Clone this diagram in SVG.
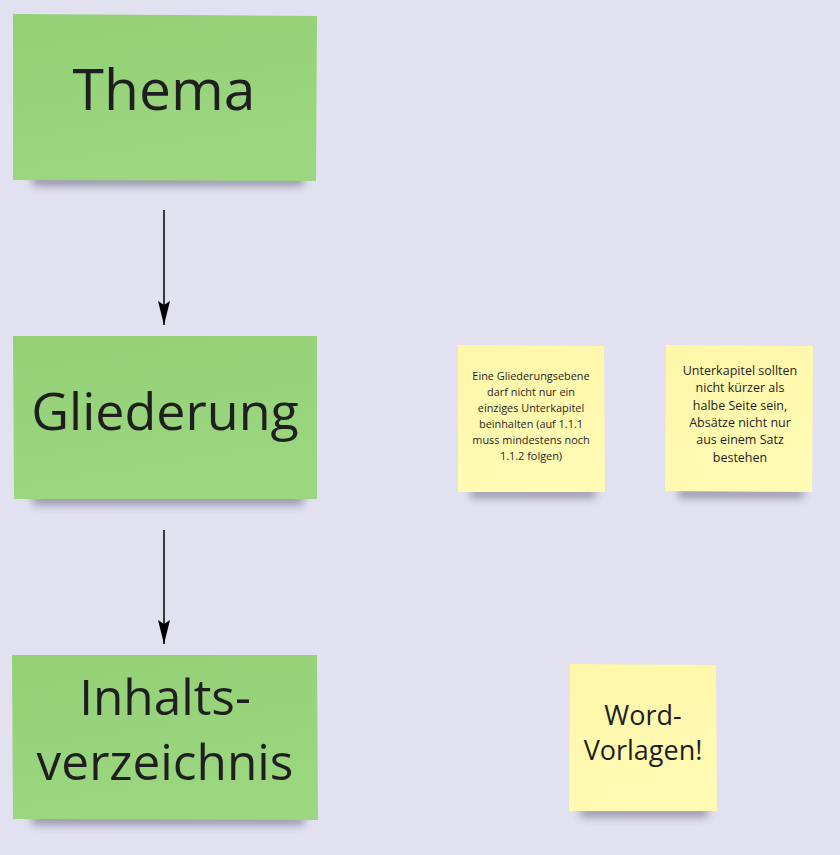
<svg xmlns="http://www.w3.org/2000/svg" width="840" height="855" viewBox="0 0 840 855">
<defs>
<filter id="sh" x="-20%" y="-100%" width="140%" height="300%"><feGaussianBlur stdDeviation="4"/></filter>
<marker id="ah" markerWidth="26" markerHeight="12" refX="24" refY="6" orient="auto" markerUnits="userSpaceOnUse" viewBox="0 0 26 12"><path d="M0,0 L24,6 L0,12 L4,6 Z" fill="#000"/></marker>
<linearGradient id="gg" x1="0" y1="0" x2="0.3" y2="1"><stop offset="0" stop-color="#93d076"/><stop offset="1" stop-color="#9cd77f"/></linearGradient>
<linearGradient id="yg" x1="0" y1="0" x2="0.3" y2="1"><stop offset="0" stop-color="#fff6a8"/><stop offset="1" stop-color="#fffab4"/></linearGradient>
</defs>
<style>
.sh{fill:#3a3a55;opacity:0.45;filter:url(#sh)}
.g{fill:url(#gg)}
.y{fill:url(#yg)}
text{font-family:"Open Sans","Noto Sans",sans-serif;fill:#1f1f1f;text-anchor:middle}
.t1{font-size:57px}
.t2{font-size:52px}
.t3{font-size:49.5px}
.sm{font-size:10.9px}
.md{font-size:12.5px}
.wd{font-size:27px}
</style>
<rect width="840" height="855" fill="#e1e1f0"/>
<g id="connectors" stroke="#000" stroke-width="1.5" fill="none">
<line x1="164" y1="210" x2="164" y2="325" marker-end="url(#ah)"/>
<line x1="164" y1="530" x2="164" y2="644" marker-end="url(#ah)"/>
</g>
<g id="thema">
<rect class="sh" x="32" y="174" width="272" height="12" rx="5"/>
<polygon class="g" points="13,14 317,16 316,181 13,180"/>
<text class="t1" x="164" y="110">Thema</text>
</g>
<g id="gliederung">
<rect class="sh" x="32" y="493" width="272" height="12" rx="5"/>
<polygon class="g" points="13,336 317,336 317,499 14,499"/>
<text class="t2" x="165" y="430">Gliederung</text>
</g>
<g id="inhaltsverzeichnis">
<rect class="sh" x="31" y="813" width="274" height="12" rx="5"/>
<polygon class="g" points="12,655 317,655 318,820 13,819"/>
<text class="t3" x="165" y="715">Inhalts-</text>
<text class="t3" x="165" y="780">verzeichnis</text>
</g>
<g id="note1">
<rect class="sh" x="470" y="488" width="126" height="10" rx="4"/>
<polygon class="y" points="458,345 604,346 605,492 458,492"/>
<text class="sm"><tspan x="531" y="380">Eine Gliederungsebene</tspan><tspan x="531" y="396">darf nicht nur ein</tspan><tspan x="531" y="412">einziges Unterkapitel</tspan><tspan x="531" y="428">beinhalten (auf 1.1.1</tspan><tspan x="531" y="444">muss mindestens noch</tspan><tspan x="531" y="460">1.1.2 folgen)</tspan></text>
</g>
<g id="note2">
<rect class="sh" x="678" y="488" width="126" height="10" rx="4"/>
<polygon class="y" points="666,345 813,346 812,492 665,491"/>
<text class="md"><tspan x="740" y="375">Unterkapitel sollten</tspan><tspan x="740" y="392">nicht kürzer als</tspan><tspan x="740" y="410">halbe Seite sein,</tspan><tspan x="740" y="427">Absätze nicht nur</tspan><tspan x="740" y="444">aus einem Satz</tspan><tspan x="740" y="462">bestehen</tspan></text>
</g>
<g id="note3">
<rect class="sh" x="580" y="807" width="128" height="10" rx="4"/>
<polygon class="y" points="570,664 716,665 717,811 569,811"/>
<text class="wd"><tspan x="643" y="725">Word-</tspan><tspan x="643" y="760">Vorlagen!</tspan></text>
</g>
</svg>
